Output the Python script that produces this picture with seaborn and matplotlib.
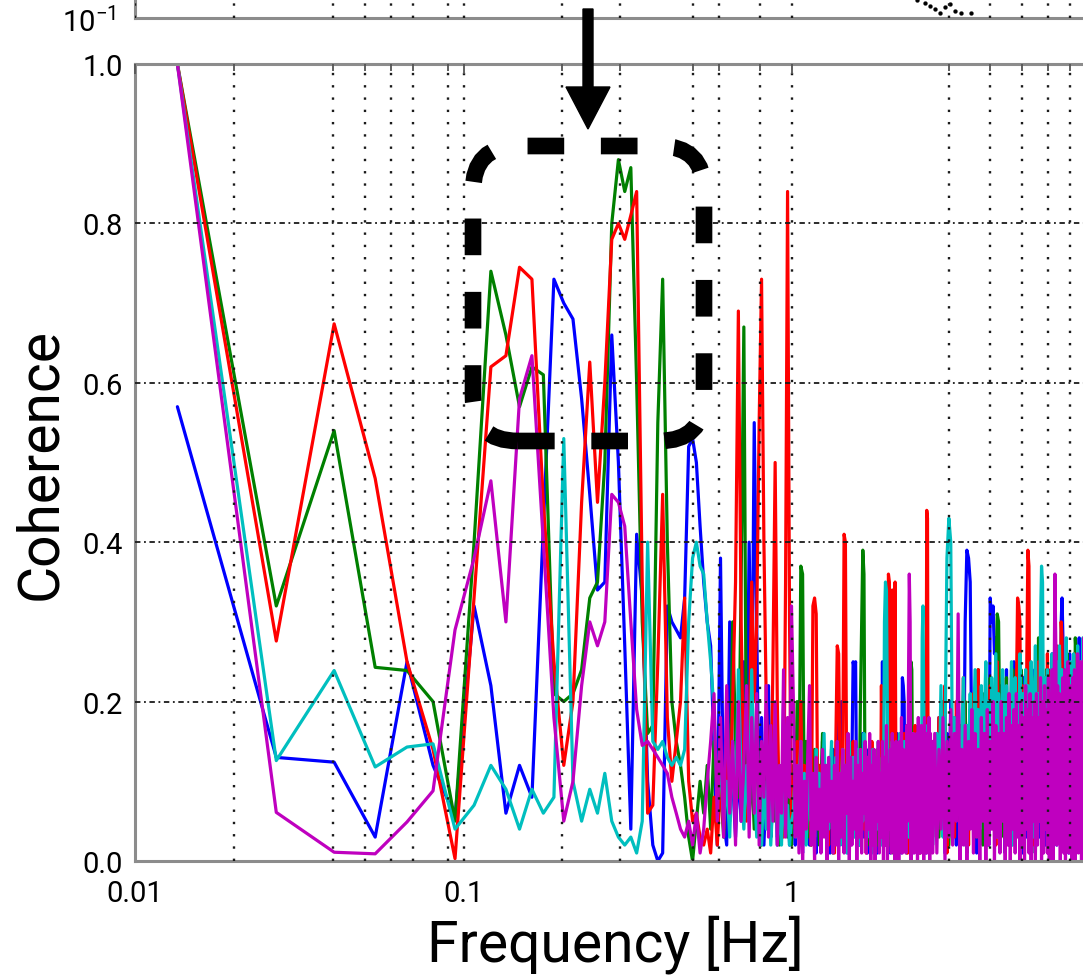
import numpy as np
import pandas as pd
import matplotlib
matplotlib.use("Agg")
import matplotlib.pyplot as plt
import seaborn as sns
from matplotlib.patches import FancyBboxPatch, FancyArrow
from matplotlib.ticker import FixedLocator, FixedFormatter, NullFormatter, NullLocator

# ==== data ====
DF = 0.01346  # frequency resolution [Hz]

# bins 1..74 (0.013 - 1.0 Hz)
blue_low = [0.57, 0.13, 0.124, 0.03, 0.25, 0.12, 0.055, 0.32, 0.22, 0.06,
            0.12, 0.08, 0.42, 0.73, 0.70, 0.68, 0.58, 0.46, 0.34, 0.35,
            0.66, 0.50, 0.27, 0.04, 0.41, 0.33, 0.10, 0.02, 0.00, 0.01,
            0.32, 0.30, 0.29, 0.28, 0.33, 0.52, 0.53, 0.50, 0.42, 0.35,
            0.30, 0.27, 0.14, 0.02, 0.38, 0.05, 0.02, 0.30, 0.10, 0.03,
            0.12, 0.05, 0.25, 0.08, 0.40, 0.15, 0.55, 0.30, 0.05, 0.18,
            0.02, 0.10, 0.22, 0.03, 0.08, 0.15, 0.02, 0.10, 0.04, 0.20,
            0.05, 0.12, 0.02, 0.06]
green_low = [1.0, 0.32, 0.54, 0.243, 0.239, 0.20, 0.05, 0.40, 0.74, 0.66,
             0.57, 0.62, 0.61, 0.21, 0.20, 0.21, 0.24, 0.33, 0.35, 0.50,
             0.80, 0.88, 0.84, 0.87, 0.60, 0.30, 0.16, 0.17, 0.55, 0.73,
             0.40, 0.20, 0.15, 0.12, 0.08, 0.03, 0.00, 0.05, 0.10, 0.06,
             0.12, 0.04, 0.15, 0.08, 0.10, 0.03, 0.12, 0.05, 0.30, 0.15,
             0.08, 0.35, 0.67, 0.10, 0.05, 0.12, 0.04, 0.20, 0.08, 0.02,
             0.12, 0.05, 0.10, 0.03, 0.15, 0.05, 0.08, 0.02, 0.10, 0.04,
             0.12, 0.03, 0.08, 0.02]
red_low = [1.0, 0.276, 0.674, 0.48, 0.25, 0.14, 0.003, 0.33, 0.62, 0.634,
           0.745, 0.73, 0.45, 0.25, 0.12, 0.20, 0.45, 0.626, 0.45, 0.60,
           0.78, 0.80, 0.78, 0.81, 0.84, 0.35, 0.06, 0.07, 0.25, 0.46,
           0.18, 0.10, 0.15, 0.20, 0.33, 0.10, 0.05, 0.06, 0.03, 0.02,
           0.04, 0.01, 0.08, 0.02, 0.10, 0.04, 0.15, 0.06, 0.20, 0.35,
           0.69, 0.30, 0.10, 0.05, 0.15, 0.35, 0.20, 0.30, 0.55, 0.73,
           0.40, 0.20, 0.10, 0.05, 0.25, 0.50, 0.20, 0.05, 0.10, 0.03,
           0.35, 0.84, 0.30, 0.05]
cyan_low = [1.0, 0.126, 0.239, 0.118, 0.143, 0.147, 0.04, 0.07, 0.12, 0.09,
            0.04, 0.09, 0.06, 0.08, 0.53, 0.10, 0.05, 0.09, 0.06, 0.11,
            0.05, 0.03, 0.02, 0.03, 0.01, 0.05, 0.40, 0.15, 0.14, 0.15,
            0.13, 0.12, 0.13, 0.12, 0.14, 0.30, 0.38, 0.40, 0.37, 0.36,
            0.30, 0.25, 0.19, 0.08, 0.12, 0.05, 0.10, 0.03, 0.15, 0.05,
            0.24, 0.10, 0.04, 0.12, 0.05, 0.24, 0.10, 0.03, 0.08, 0.02,
            0.10, 0.04, 0.12, 0.02, 0.08, 0.15, 0.03, 0.06, 0.02, 0.10,
            0.04, 0.07, 0.02, 0.05]
magenta_low = [1.0, 0.061, 0.011, 0.009, 0.049, 0.088, 0.29, 0.38, 0.477, 0.30,
               0.58, 0.634, 0.40, 0.18, 0.05, 0.10, 0.22, 0.30, 0.27, 0.30,
               0.46, 0.45, 0.42, 0.30, 0.19, 0.145, 0.15, 0.14, 0.13, 0.12,
               0.11, 0.08, 0.06, 0.04, 0.03, 0.05, 0.02, 0.06, 0.01, 0.04,
               0.10, 0.15, 0.21, 0.05, 0.18, 0.03, 0.22, 0.06, 0.15, 0.02,
               0.20, 0.05, 0.12, 0.22, 0.03, 0.18, 0.06, 0.21, 0.02, 0.15,
               0.08, 0.22, 0.03, 0.17, 0.05, 0.20, 0.02, 0.12, 0.06, 0.24,
               0.03, 0.18, 0.08, 0.32]

# bins 75..199 (1.0 - 2.7 Hz), percent
blue_mid = [8, 2, 12, 3, 6, 1, 10, 4, 14, 2, 9, 3, 13, 1, 7, 11, 2, 15, 5, 10,
            3, 12, 1, 8, 14, 4, 9, 20, 18, 6, 20, 2, 11, 5, 13, 1, 9, 6, 12, 25,
            24, 25, 3, 10, 2, 13, 7, 16, 3, 9, 14, 1, 11, 5, 15, 2, 8, 12, 4, 10,
            1, 13, 6, 9, 3, 25, 8, 12, 2, 10, 15, 4, 9, 1, 12, 6, 14, 3, 11, 7,
            16, 2, 10, 5, 13, 1, 23, 22, 20, 6, 11, 3, 14, 8, 2, 12, 5, 16, 1, 9,
            13, 4, 10, 2, 15, 7, 11, 1, 14, 6, 12, 3, 17, 5, 9, 1, 13, 8, 15, 2,
            11, 6, 14, 3, 10]
green_mid = [12, 5, 20, 8, 37, 36, 4, 15, 3, 10, 2, 8, 14, 4, 11, 2, 9, 16, 5, 12,
             3, 10, 7, 14, 1, 11, 6, 13, 2, 9, 15, 4, 11, 3, 13, 6, 10, 2, 12, 8,
             5, 14, 3, 11, 7, 20, 30, 39, 36, 6, 12, 2, 9, 15, 4, 11, 3, 13, 6, 10,
             2, 12, 8, 5, 14, 3, 11, 7, 15, 4, 10, 13, 2, 9, 6, 14, 1, 11, 8, 12,
             3, 10, 15, 5, 9, 2, 13, 7, 11, 4, 14, 1, 10, 6, 12, 18, 25, 24, 8, 12,
             3, 16, 6, 10, 14, 2, 9, 15, 5, 12, 4, 11, 7, 13, 2, 10, 16, 5, 9, 14,
             3, 12, 6, 15, 8]
red_mid = [10, 4, 15, 8, 20, 6, 12, 3, 9, 14, 2, 32, 33, 31, 5, 12, 3, 9, 14, 6,
           10, 2, 13, 7, 11, 1, 15, 27, 26, 10, 4, 12, 41, 40, 7, 13, 2, 11, 5, 15,
           8, 3, 12, 6, 10, 2, 14, 9, 4, 11, 1, 13, 6, 10, 3, 15, 7, 12, 2, 9,
           14, 5, 11, 3, 22, 8, 13, 2, 10, 6, 12, 36, 35, 4, 15, 34, 9, 12, 35, 6,
           11, 3, 14, 7, 10, 2, 13, 5, 16, 4, 9, 12, 1, 15, 6, 11, 3, 14, 8, 10,
           2, 17, 5, 12, 9, 4, 15, 1, 11, 7, 13, 3, 10, 16, 6, 12, 44, 43, 2, 14,
           5, 11, 8, 15, 3]
cyan_mid = [6, 12, 3, 9, 15, 4, 11, 2, 8, 13, 5, 10, 3, 14, 7, 11, 2, 9, 16, 6,
            12, 4, 10, 15, 3, 8, 13, 5, 11, 2, 9, 14, 6, 12, 1, 10, 15, 4, 8, 13,
            3, 11, 7, 14, 2, 9, 12, 5, 16, 6, 10, 3, 13, 8, 11, 1, 14, 5, 9, 12,
            4, 15, 7, 10, 2, 13, 6, 30, 35, 34, 18, 6, 12, 4, 10, 15, 3, 11, 7, 14,
            9, 5, 12, 16, 4, 10, 13, 6, 15, 2, 11, 8, 14, 3, 12, 9, 1, 16, 6, 10,
            13, 4, 11, 15, 2, 9, 14, 7, 12, 5, 28, 32, 20, 8, 14, 3, 11, 17, 6, 12,
            4, 15, 9, 13, 2]
magenta_mid = [20, 3, 12, 1, 15, 0, 10, 4, 14, 22, 2, 11, 0, 13, 4, 9, 1, 14, 3, 12,
               0, 13, 5, 10, 1, 12, 2, 15, 0, 11, 3, 14, 1, 12, 6, 16, 0, 13, 2, 10,
               4, 15, 0, 12, 3, 14, 1, 11, 6, 15, 1, 13, 4, 16, 0, 12, 2, 14, 0, 13,
               5, 15, 1, 11, 3, 15, 0, 13, 2, 17, 0, 12, 4, 14, 1, 16, 3, 12, 0, 15,
               6, 13, 0, 15, 2, 18, 1, 14, 4, 12, 1, 17, 5, 22, 36, 30, 0, 15, 3, 16,
               1, 13, 5, 16, 0, 18, 4, 14, 1, 17, 2, 15, 0, 18, 5, 16, 1, 14, 3, 18,
               0, 16, 4, 15, 1]

# every third bin 202..586 (2.7 - 7.9 Hz), percent
blue_high = [14, 3, 18, 6, 12, 1, 16, 7, 20, 4, 15, 2, 22, 8, 17, 5, 30, 39, 38, 35,
             12, 4, 18, 1, 16, 7, 21, 3, 14, 9, 19, 2, 33, 30, 32, 26, 28, 8, 19, 4,
             22, 6, 17, 1, 24, 8, 20, 3, 18, 5, 25, 2, 16, 7, 21, 4, 19, 1, 23, 6,
             18, 3, 22, 8, 16, 2, 24, 5, 20, 1, 21, 7, 17, 3, 25, 4, 19, 9, 23, 2,
             20, 6, 24, 1, 18, 8, 26, 3, 21, 5, 22, 2, 19, 7, 25, 4, 30, 33, 28, 6,
             24, 3, 20, 8, 22, 1, 26, 5, 19, 7, 23, 2, 25, 6, 21, 4, 24, 9, 28, 3,
             22, 7, 26, 2, 20, 5, 24, 1, 21]
green_high = [10, 16, 3, 13, 20, 5, 15, 2, 12, 18, 6, 14, 22, 4, 17, 9, 20, 1, 15, 19,
              5, 18, 12, 3, 24, 8, 16, 2, 21, 10, 16, 4, 23, 12, 19, 7, 22, 31, 30, 14,
              10, 21, 3, 16, 23, 6, 19, 11, 2, 24, 13, 17, 4, 21, 15, 8, 24, 19, 2, 16,
              22, 5, 18, 12, 3, 20, 9, 23, 16, 1, 21, 15, 28, 27, 14, 20, 3, 23, 16, 8,
              24, 13, 20, 2, 17, 10, 22, 6, 16, 25, 12, 19, 4, 23, 9, 27, 14, 18, 2, 21,
              11, 24, 7, 26, 15, 3, 20, 12, 23, 5, 17, 25, 10, 28, 26, 4, 21, 16, 24, 13,
              19, 2, 22, 8, 25, 14, 20, 6, 23]
red_high = [12, 4, 18, 6, 15, 22, 1, 13, 9, 17, 3, 20, 11, 14, 5, 23, 8, 16, 2, 19,
            12, 21, 4, 15, 24, 7, 18, 10, 20, 3, 17, 13, 22, 6, 16, 21, 2, 25, 14, 19,
            8, 23, 12, 18, 4, 20, 15, 9, 24, 11, 17, 3, 21, 33, 32, 30, 6, 22, 14, 19,
            10, 24, 39, 37, 5, 20, 13, 18, 2, 22, 16, 11, 25, 7, 19, 14, 23, 4, 21, 17,
            9, 26, 13, 20, 3, 24, 15, 18, 8, 22, 12, 27, 5, 21, 17, 10, 30, 28, 6, 23,
            15, 19, 2, 25, 13, 20, 9, 24, 17, 11, 22, 4, 26, 14, 18, 7, 23, 16, 20, 3,
            25, 12, 19, 8, 24, 15, 21, 5, 18]
cyan_high = [10, 16, 7, 22, 3, 14, 38, 43, 40, 9, 18, 12, 20, 6, 15, 23, 2, 17, 13, 21,
             8, 16, 24, 11, 19, 4, 22, 9, 18, 25, 12, 20, 5, 23, 10, 18, 26, 3, 21, 16,
             11, 24, 19, 6, 22, 9, 20, 17, 25, 2, 18, 23, 15, 20, 11, 26, 4, 21, 14, 19,
             24, 8, 22, 16, 10, 25, 18, 3, 20, 27, 15, 12, 21, 9, 30, 37, 35, 16, 23, 6,
             19, 24, 11, 22, 17, 2, 26, 14, 20, 23, 8, 25, 18, 13, 27, 21, 4, 24, 16, 19,
             22, 11, 28, 15, 3, 23, 19, 25, 12, 20, 17, 26, 7, 24, 21, 14, 27, 2, 23, 18,
             25, 13, 20, 28, 6, 24, 19, 22, 15]
magenta_high = [16, 1, 14, 4, 18, 0, 15, 3, 19, 2, 16, 5, 31, 0, 14, 2, 17, 0, 15, 4,
                19, 1, 16, 3, 14, 0, 18, 5, 16, 0, 19, 2, 15, 4, 20, 0, 17, 3, 16, 1,
                20, 5, 16, 0, 18, 2, 21, 0, 17, 4, 19, 1, 21, 3, 17, 0, 20, 2, 18, 0,
                22, 4, 19, 1, 21, 0, 18, 5, 20, 0, 21, 2, 18, 5, 23, 0, 20, 1, 22, 4,
                19, 1, 23, 0, 21, 3, 24, 0, 20, 36, 27, 2, 22, 4, 21, 0, 19, 3, 23, 1,
                24, 0, 21, 4, 25, 1, 20, 3, 22, 0, 23, 2, 24, 0, 21, 4, 26, 1, 22, 3,
                25, 0, 22, 2, 28, 0, 24, 4, 23]

# a few dots of the upper panel trace that show at the top edge
upper_freq = [2.40, 2.54, 2.63, 2.73, 2.82, 2.92, 3.03, 3.14, 3.26, 3.50]
upper_vals = [0.14, 0.133, 0.125, 0.118, 0.11, 0.123, 0.13, 0.114, 0.11, 0.11]

channels = ["blue", "green", "red", "cyan", "magenta"]
colors = {"blue": "#0000ff", "green": "#008000", "red": "#ff0000",
          "cyan": "#00bfbf", "magenta": "#bf00bf"}

x_major = [0.01, 0.1, 1, 10]
x_major_labels = ["0.01", "0.1", "1", "10"]
x_minor = [0.02, 0.04, 0.05, 0.06, 0.07, 0.09, 0.2, 0.3, 0.5, 0.6, 0.8, 3, 4, 5, 6, 7]
y_ticks = [0.0, 0.2, 0.4, 0.6, 0.8, 1.0]
y_labels = ["0.0", "0.2", "0.4", "0.6", "0.8", "1.0"]

# ==== build long table ====
freq = DF * np.concatenate([np.arange(1, 75), np.arange(75, 200),
                            np.arange(202, 587, 3)])
lows = [blue_low, green_low, red_low, cyan_low, magenta_low]
mids = [blue_mid, green_mid, red_mid, cyan_mid, magenta_mid]
highs = [blue_high, green_high, red_high, cyan_high, magenta_high]
frames = []
for name, lo, mi, hi in zip(channels, lows, mids, highs):
    vals = np.concatenate([lo, np.array(mi) / 100.0, np.array(hi) / 100.0])
    frames.append(pd.DataFrame({"freq": freq, "coh": vals, "chan": name}))
df = pd.concat(frames, ignore_index=True)

sns.set_style("white")
plt.rcParams["font.family"] = ["Roboto", "DejaVu Sans"]
plt.rcParams["mathtext.fontset"] = "custom"
plt.rcParams["mathtext.rm"] = "Roboto"
plt.rcParams["mathtext.default"] = "regular"
plt.rcParams["text.color"] = "black"
plt.rcParams["axes.labelcolor"] = "black"
plt.rcParams["xtick.labelcolor"] = "black"
plt.rcParams["ytick.labelcolor"] = "black"

fig = plt.figure(figsize=(10.83, 9.79), dpi=100)
W, H = 1083.0, 979.0
ax = fig.add_axes([135 / W, 117 / H, 960 / W, 797 / H])

sns.lineplot(data=df, x="freq", y="coh", hue="chan", hue_order=channels,
             palette=colors, estimator=None, linewidth=2.3, legend=False, ax=ax)

GRID_C = "#1a1a1a"
SPINE_C = "#8c8c8c"


def style_axis(a):
    a.set_xscale("log")
    a.set_xlim(0.01, 8.36)
    a.xaxis.set_major_locator(FixedLocator(x_major))
    a.xaxis.set_minor_locator(FixedLocator(x_minor))
    a.xaxis.set_minor_formatter(NullFormatter())
    a.grid(True, axis="x", which="both", color=GRID_C,
           linestyle=(0, (1, 4.2)), linewidth=1.7)
    a.set_axisbelow(False)
    a.tick_params(which="both", direction="in", top=True, right=True,
                  color="#555555", width=1.3)
    a.tick_params(which="major", length=7)
    a.tick_params(which="minor", length=5)
    for s in a.spines.values():
        s.set_color(SPINE_C)
        s.set_linewidth(2.2)


style_axis(ax)
ax.xaxis.set_major_formatter(FixedFormatter(x_major_labels))
ax.set_ylim(0, 1)
ax.set_yticks(y_ticks)
ax.set_yticklabels(y_labels)
ax.yaxis.set_minor_locator(NullLocator())
ax.grid(True, axis="y", which="major", color=GRID_C,
        linestyle=(0, (3, 2, 1, 2)), linewidth=1.3)
for gl, t in zip(ax.yaxis.get_gridlines(), y_ticks):
    gl.set_visible(0 < t < 1)
for gl, t in zip(ax.xaxis.get_gridlines(), x_major):
    gl.set_visible(t > 0.01)
ax.tick_params(axis="x", labelsize=21, pad=13)
ax.tick_params(axis="y", labelsize=21, pad=9)

ax.set_xlabel("Frequency [Hz]", fontsize=41)
ax.xaxis.label.set_va("center")
ax.xaxis.set_label_coords(0.5, -0.104)
ax.set_ylabel("Coherence", fontsize=41)
ax.yaxis.label.set_va("center")
ax.yaxis.set_label_coords(-(135 - 41) / 960, 0.5)

# upper panel (only its bottom edge is inside the picture)
ax_top = fig.add_axes([135 / W, 960 / H, 960 / W, 0.25])
sns.scatterplot(x=upper_freq, y=upper_vals, color="black", s=8,
                edgecolor=None, legend=False, ax=ax_top)
style_axis(ax_top)
ax_top.set_yscale("log")
ax_top.set_ylim(0.1, 10)
ax_top.yaxis.set_major_locator(FixedLocator([0.1]))
ax_top.yaxis.set_major_formatter(FixedFormatter([r"$10^{-1}$"]))
ax_top.yaxis.set_minor_locator(NullLocator())
ax_top.tick_params(axis="x", labelbottom=False)
ax_top.tick_params(axis="y", labelsize=21, pad=14, length=0)
ax_top.set_xlabel("")
ax_top.set_ylabel("")

# annotations: arrow and dashed rounded box
box = FancyBboxPatch((4.73, 5.37), 2.31, 2.95,
                     boxstyle="round,pad=0,rounding_size=0.45",
                     transform=fig.dpi_scale_trans, fill=False,
                     edgecolor="black", linewidth=12,
                     linestyle=(0, (2.2, 2.2)), zorder=10)
fig.add_artist(box)
arrow = FancyArrow(5.88, 9.69, 0, -1.20, width=0.10, head_width=0.44,
                   head_length=0.42, length_includes_head=True,
                   color="black", transform=fig.dpi_scale_trans, zorder=10)
fig.add_artist(arrow)

fig.savefig("out.png", dpi=100)
